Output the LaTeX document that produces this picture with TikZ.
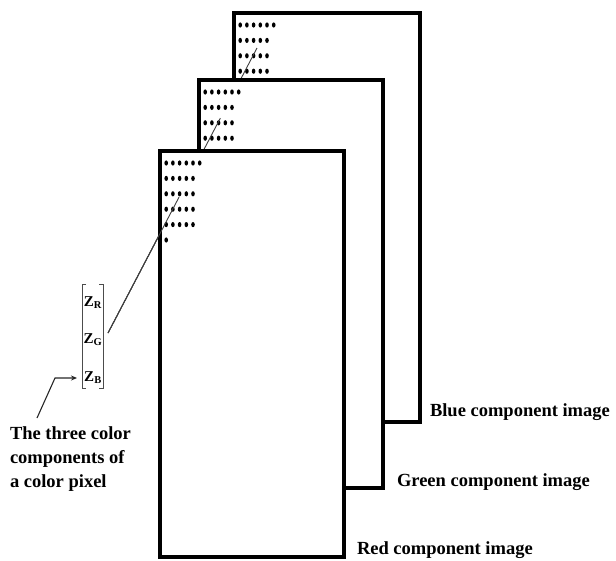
\documentclass[tikz,border=0pt]{standalone}
\usepackage{fontspec}
\setmainfont{Liberation Serif}
\usetikzlibrary{arrows.meta,calc}

\begin{document}
\begin{tikzpicture}[x=1pt, y=-1pt,
  every node/.style={font=\bfseries\fontsize{18.5}{24}\selectfont, inner sep=0pt, outer sep=0pt},
  plane/.style={rectangle, draw=black, fill=white, line width=3.2pt, anchor=north west},
  pixdot/.style={fill=black},
  link/.style={line width=0.9pt, draw=black!75},
  brk/.style={line width=0.9pt, draw=black!70},
  pointer/.style={-{Stealth[length=6pt,width=5pt]}, line width=1.1pt, draw=black!85},
  zlab/.style={font=\bfseries\fontsize{15}{18}\selectfont},
]
\useasboundingbox (0,0) rectangle (616,560);
\node[minimum width=21pt, minimum height=104pt] (vec) at (92.5,336) {};
\coordinate (src) at ($(vec.east)+(5,-3)$);
% blue plane (back)
\node[plane, minimum width=186pt, minimum height=409pt] (blue) at (234,13) {};
\foreach \n [count=\r] in {6,5,5,5}
  \foreach \c in {1,...,\n}
    \fill[pixdot] ($(blue.north west)+(\c*6.7-0.5, \r*15.4-3.4)$) ellipse [x radius=1.8pt, y radius=2.6pt];
\coordinate (bpix) at ($(blue.north west)+(23,35)$);
\draw[link] (src) -- (bpix);
% green plane
\node[plane, minimum width=184pt, minimum height=408pt] (green) at (199,80) {};
\foreach \n [count=\r] in {6,5,5,5}
  \foreach \c in {1,...,\n}
    \fill[pixdot] ($(green.north west)+(\c*6.7-0.5, \r*15.4-3.4)$) ellipse [x radius=1.8pt, y radius=2.6pt];
\coordinate (gpix) at ($(src)!0.754!(bpix)$);
\draw[link] (src) -- (gpix);
% red plane (front)
\node[plane, minimum width=184pt, minimum height=406pt] (red) at (160,151) {};
\foreach \n [count=\r] in {6,5,5,5,5,1}
  \foreach \c in {1,...,\n}
    \fill[pixdot] ($(red.north west)+(\c*6.7-0.5, \r*15.4-3.4)$) ellipse [x radius=1.8pt, y radius=2.6pt];
\coordinate (rpix) at ($(src)!0.477!(bpix)$);
\draw[link] (src) -- (rpix);
% pixel vector
\draw[brk] ([xshift=4pt]vec.north west) -- (vec.north west) -- (vec.south west) -- ([xshift=4pt]vec.south west);
\draw[brk] ([xshift=-4pt]vec.north east) -- (vec.north east) -- (vec.south east) -- ([xshift=-4pt]vec.south east);
\node[zlab] (zr) at (93,303) {Z\textsubscript{R}};
\node[zlab] (zg) at (93,340) {Z\textsubscript{G}};
\node[zlab] (zb) at (93,378) {Z\textsubscript{B}};
\node[anchor=north west, align=left] (caption) at (10,427) {The three color\\components of\\a color pixel};
\draw[pointer, shorten >=5pt] ($(caption.north west)+(27,-9)$) -- ++(18,-40) -- (vec.west |- zb.center);
\node[anchor=west] (blab) at ($(blue.south east)+(10,-10)$) {Blue component image};
\node[anchor=west] (glab) at ($(green.south east)+(14,-6)$) {Green component image};
\node[anchor=west] (rlab) at ($(red.south east)+(13,-7)$) {Red component image};
\end{tikzpicture}
\end{document}
